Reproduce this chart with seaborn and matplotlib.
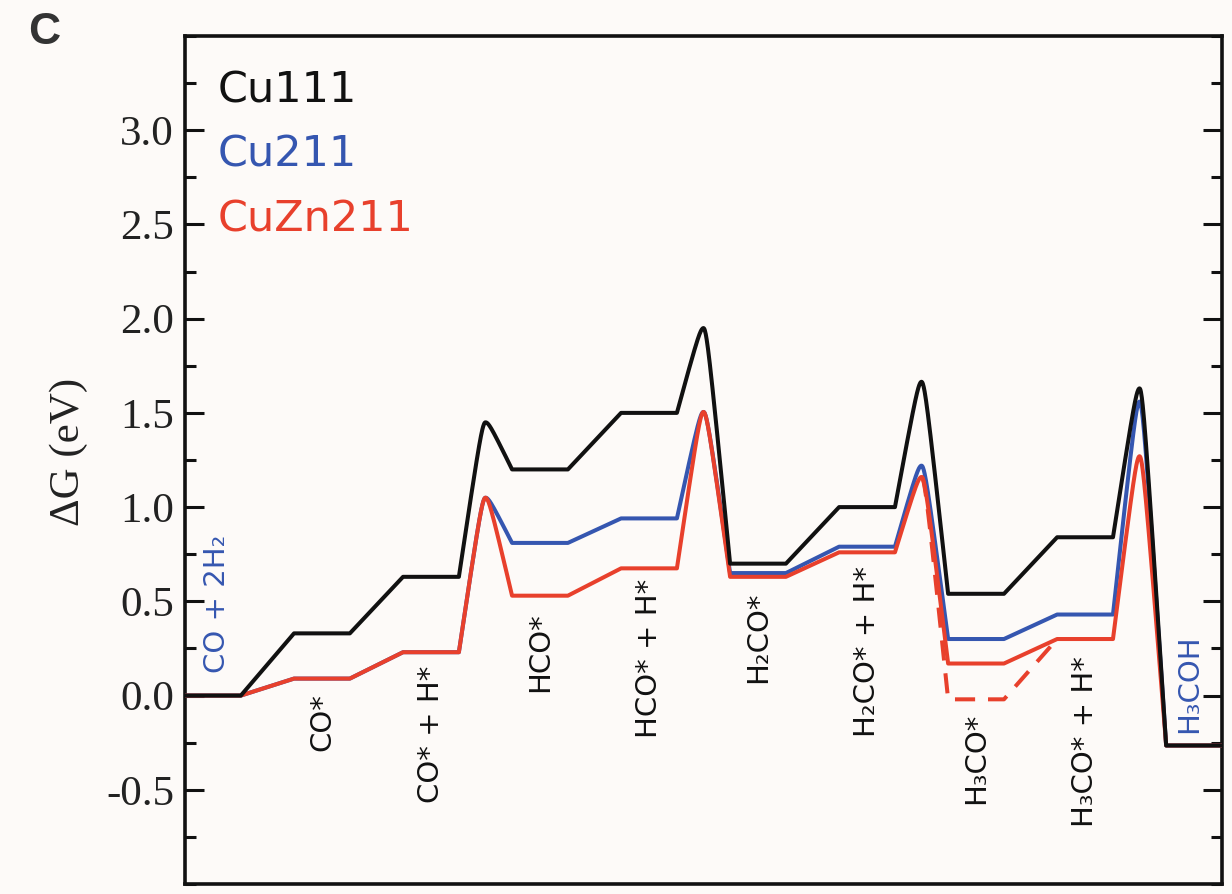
import numpy as np
import pandas as pd
import matplotlib
matplotlib.use("Agg")
import matplotlib.pyplot as plt
import seaborn as sns
from matplotlib.ticker import MultipleLocator

# Intermediates along the CO hydrogenation pathway
states = ["CO + 2H\u2082", "CO*", "CO* + H*", "HCO*", "HCO* + H*",
          "H\u2082CO*", "H\u2082CO* + H*", "H\u2083CO*", "H\u2083CO* + H*", "H\u2083COH"]

# Free energy of each intermediate (eV)
cu111_levels = [0.00, 0.33, 0.63, 1.20, 1.50, 0.70, 1.00, 0.54, 0.84, -0.265]
cu211_levels = [0.00, 0.09, 0.23, 0.81, 0.94, 0.65, 0.79, 0.30, 0.43, -0.265]
cuzn211_levels = [0.00, 0.09, 0.23, 0.53, 0.675, 0.63, 0.76, 0.17, 0.30, -0.265]

# Transition-state energies between step i and i+1 (None = no barrier drawn)
cu111_ts = [None, None, 1.45, None, 1.95, None, 1.665, None, 1.63]
cu211_ts = [None, None, 1.05, None, 1.505, None, 1.22, None, 1.56]
cuzn211_ts = [None, None, 1.05, None, 1.505, None, 1.16, None, 1.27]

# Alternative H3CO* level on CuZn211 (dashed branch)
cuzn211_h3co_alt = -0.02

series_names = ["Cu111", "Cu211", "CuZn211"]
series_colors = ["#111111", "#3556b0", "#e8402c"]

PLATEAU = 1.05
GAP = 1.0


def energy_path(levels, barriers, n=60, eps=0.15):
    """Piecewise path: flat plateaus, straight links, rounded barrier humps."""
    xs, ys = [], []
    norm = np.sqrt(1 + eps ** 2) - eps

    def shape(t):
        return (np.sqrt(t ** 2 + eps ** 2) - eps) / norm

    for i, lv in enumerate(levels):
        x0 = i * (PLATEAU + GAP)
        xs += [x0, x0 + PLATEAU]
        ys += [lv, lv]
        if i < len(levels) - 1 and barriers[i] is not None:
            b = barriers[i]
            nxt = levels[i + 1]
            xa = x0 + PLATEAU
            xm = xa + GAP / 2
            t = np.linspace(1, 0, n)[1:]
            xs += list(xm - t * GAP / 2)
            ys += list(b - (b - lv) * shape(t))
            t2 = np.linspace(0, 1, n)[1:-1]
            xs += list(xm + t2 * GAP / 2)
            ys += list(b - (b - nxt) * shape(t2))
    return np.array(xs), np.array(ys)


sns.set_theme(style="ticks")
plt.rcParams["font.family"] = ["DejaVu Sans"]

bg = "#fdfaf8"
fig = plt.figure(figsize=(12.32, 8.94), dpi=100, facecolor=bg)
ax = fig.add_axes([185 / 1232, 1 - 884 / 894, 1037 / 1232, 848 / 894])
ax.set_facecolor(bg)

lw = 2.9
all_levels = [cu111_levels, cu211_levels, cuzn211_levels]
all_ts = [cu111_ts, cu211_ts, cuzn211_ts]
z_of = {0: 6, 1: 3, 2: 4}
for k in [1, 2, 0]:
    x, y = energy_path(all_levels[k], all_ts[k])
    df = pd.DataFrame({"x": x, "y": y})
    sns.lineplot(data=df, x="x", y="y", sort=False, estimator=None,
                 color=series_colors[k], lw=lw, ax=ax, legend=False,
                 zorder=z_of[k])

# Dashed CuZn211 branch through the lower H3CO* state
alt_levels = list(cuzn211_levels)
alt_levels[7] = cuzn211_h3co_alt
xa, ya = energy_path(alt_levels, cuzn211_ts)
x_peak = 6 * (PLATEAU + GAP) + PLATEAU + GAP / 2
x_end = 8 * (PLATEAU + GAP)
mask = (xa >= x_peak) & (xa <= x_end)
sns.lineplot(x=xa[mask], y=ya[mask], sort=False, estimator=None,
             color=series_colors[2], lw=lw, ax=ax, legend=False, zorder=5)
ax.lines[-1].set_dashes((5, 3.2))

# Step labels
label_font = dict(family="DejaVu Sans", fontsize=21, rotation=90)
centers = [i * (PLATEAU + GAP) + PLATEAU / 2 for i in range(len(states))]
top_pos = [None, 0.015, 0.16, 0.44, 0.62, 0.55, 0.69, -0.09, 0.21, None]
for i, name in enumerate(states):
    if i == 0:
        ax.text(0.6, 0.12, name, color=series_colors[1], ha="center",
                va="bottom", **label_font)
    elif i == len(states) - 1:
        ax.text(centers[i] - 0.1, -0.20, name, color=series_colors[1],
                ha="center", va="bottom", **label_font)
    else:
        ax.text(centers[i], top_pos[i], name, color="#111111", ha="center",
                va="top", **label_font)

# Series key
for name, col, yb in zip(series_names, series_colors, [3.149, 2.809, 2.463]):
    ax.text(0.62, yb, name, color=col, fontsize=31, family="DejaVu Sans",
            ha="left", va="baseline")

ax.set_xlim(0, len(states) * PLATEAU + (len(states) - 1) * GAP)
ax.set_ylim(-1.0, 3.5)
ax.set_xticks([])
ax.yaxis.set_major_locator(MultipleLocator(0.5))
ax.yaxis.set_minor_locator(MultipleLocator(0.25))
ax.set_yticks([-0.5, 0.0, 0.5, 1.0, 1.5, 2.0, 2.5, 3.0])
ax.set_yticklabels(["-0.5", "0.0", "0.5", "1.0", "1.5", "2.0", "2.5", "3.0"],
                   family="Liberation Serif", fontsize=31, color="#222222")
ax.tick_params(axis="y", which="both", direction="in", left=True, right=True,
               width=2.2, color="#111111", pad=8)
ax.tick_params(axis="y", which="major", length=14)
ax.tick_params(axis="y", which="minor", length=8)
ax.tick_params(axis="x", which="both", bottom=False, top=False)
for sp in ax.spines.values():
    sp.set_visible(True)
    sp.set_linewidth(2.6)
    sp.set_color("#111111")

ax.set_xlabel("")
ax.set_ylabel("\u0394G (eV)", family="Liberation Serif", fontsize=31,
              color="#222222")
ax.yaxis.set_label_coords(-0.094, 0.51)

fig.text(28 / 1232, 1 - 44 / 894, "C", family="Liberation Sans",
         fontweight="bold", fontsize=32, color="#333333", ha="left",
         va="baseline")

fig.savefig("out.png", dpi=100, facecolor=bg)
